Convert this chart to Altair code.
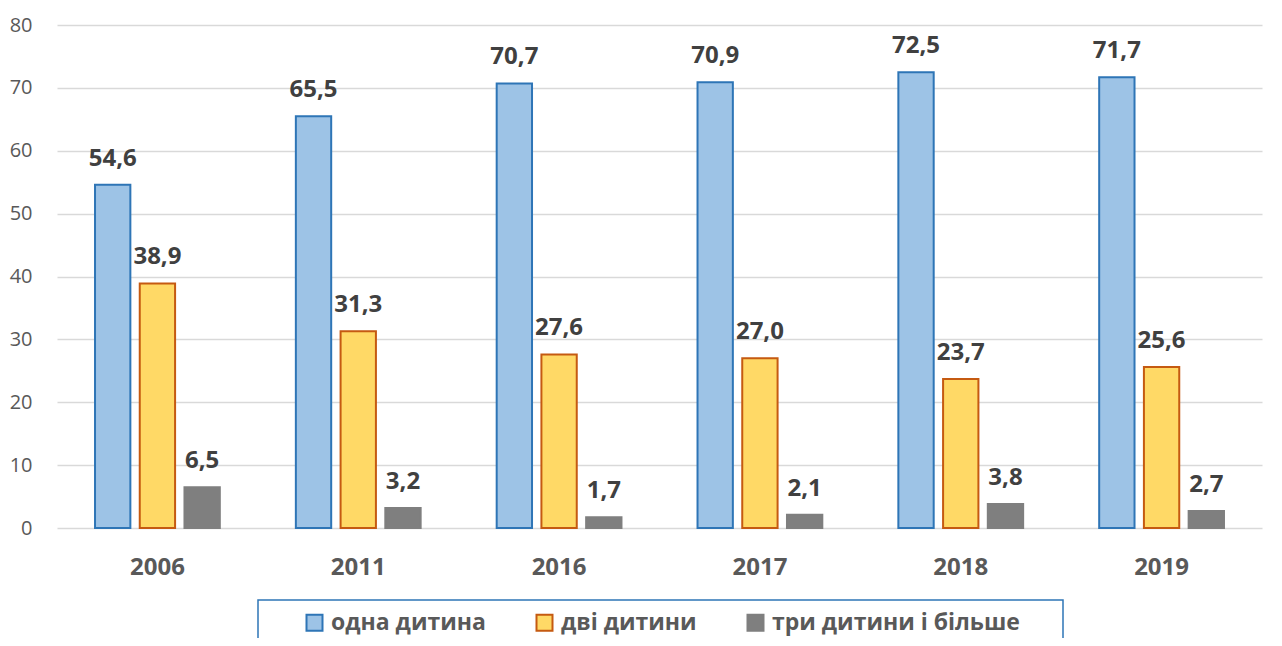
import altair as alt
import pandas as pd

years = ["2006", "2011", "2016", "2017", "2018", "2019"]
series = ["одна дитина", "дві дитини", "три дитини і більше"]
one_child = [54.6, 65.5, 70.7, 70.9, 72.5, 71.7]
two_children = [38.9, 31.3, 27.6, 27.0, 23.7, 25.6]
three_plus = [6.5, 3.2, 1.7, 2.1, 3.8, 2.7]
y_ticks = [0, 10, 20, 30, 40, 50, 60, 70, 80]

fills = ["#9DC3E6", "#FFD966", "#7F7F7F"]
strokes = ["#2E75B6", "#C55A11", "#7F7F7F"]

rows = []
for s, vals in zip(series, [one_child, two_children, three_plus]):
    for yr, v in zip(years, vals):
        rows.append({"year": yr, "series": s, "value": v,
                     "label": f"{v:.1f}".replace(".", ",")})
df = pd.DataFrame(rows)

FONT = "Open Sans"

base = alt.Chart(df).encode(
    x=alt.X("year:N", sort=years,
            scale=alt.Scale(paddingInner=0, paddingOuter=0),
            axis=alt.Axis(title=None, labelAngle=0, labelFont=FONT, labelFontSize=24,
                          labelFontWeight="bold", labelColor="#595959", ticks=False,
                          domain=False, labelPadding=27)),
    xOffset=alt.XOffset("series:N", sort=series,
                        scale=alt.Scale(paddingInner=0.21, paddingOuter=0.85)),
    y=alt.Y("value:Q", scale=alt.Scale(domain=[0, 80], nice=False),
            axis=alt.Axis(title=None, values=y_ticks, labelFont=FONT, labelFontSize=20,
                          labelColor="#595959", ticks=False, domain=False,
                          labelPadding=25, gridColor="#D9D9D9", gridWidth=1.5)),
)

bars = base.mark_bar(strokeWidth=2).encode(
    color=alt.Color("series:N", sort=series,
                    scale=alt.Scale(domain=series, range=fills),
                    legend=alt.Legend(title=None, orient="none", direction="horizontal",
                                      legendX=246, legendY=586, labelFont=FONT,
                                      labelFontSize=23, labelFontWeight="bold",
                                      labelColor="#595959", symbolType="square",
                                      symbolSize=256, symbolStrokeWidth=2,
                                      columnPadding=46, labelOffset=5,
                                      labelLimit=400, padding=0)),
    stroke=alt.Stroke("series:N", sort=series,
                      scale=alt.Scale(domain=series, range=strokes),
                      legend=None),
)

labels = base.mark_text(font=FONT, fontSize=24, fontWeight="bold", color="#404040",
                        baseline="alphabetic", dy=-19).encode(text="label:N")

frame = alt.Chart(pd.DataFrame({"k": [0]})).mark_rect(
    fill=None, stroke="#2E75B6", strokeWidth=1.5).encode(
    x=alt.value(201), x2=alt.value(1006), y=alt.value(575), y2=alt.value(640))

chart = alt.layer(bars, labels, frame).properties(
    width=1205, height=503,
    padding={"left": 49, "top": 17, "right": 10, "bottom": 110},
    autosize=alt.AutoSizeParams(type="none"),
).configure_view(stroke=None).configure_legend(strokeColor=None)

chart.save("out.html", embed_options={"renderer": "svg", "actions": False})
